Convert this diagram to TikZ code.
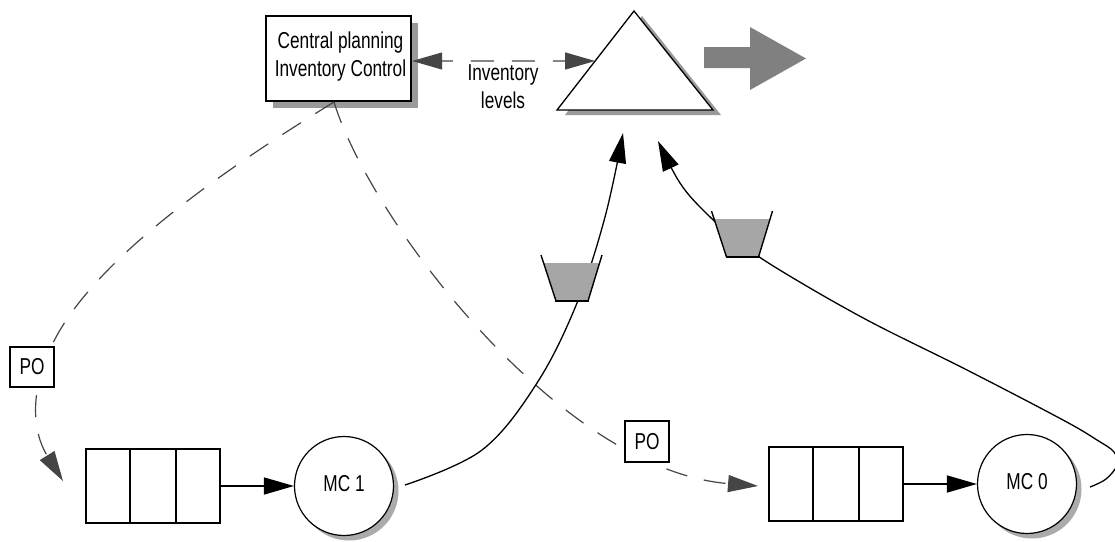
\documentclass[tikz,border=0pt]{standalone}
\usepackage{fontspec}
\setmainfont{Liberation Sans}[FakeStretch=0.75]
\usetikzlibrary{arrows.meta,shadows,calc}

\definecolor{dashgray}{HTML}{454545}
\definecolor{tankgray}{HTML}{A6A6A6}
\definecolor{boxshadow}{HTML}{9A9A9A}
\definecolor{roundshadow}{HTML}{ABABAB}
\definecolor{bigarrow}{HTML}{808080}

\begin{document}
\begin{tikzpicture}[x=1pt, y=-1pt,
  font=\fontsize{23pt}{28pt}\selectfont,
  >={Triangle[length=30pt,width=17pt]},
  planbox/.style={draw, line width=2.4pt, fill=white, minimum width=145pt,
    minimum height=85pt, inner sep=0pt,
    drop shadow={shadow xshift=7pt, shadow yshift=-7pt, opacity=1, fill=boxshadow}},
  pobox/.style={draw, line width=1.6pt, fill=white, minimum width=44.5pt,
    minimum height=40.5pt, inner sep=0pt},
  queuebox/.style={draw, line width=2pt, fill=white, minimum width=134pt,
    minimum height=74pt, inner sep=0pt},
  machine/.style={circle, draw, line width=1.2pt, fill=white, minimum size=99pt,
    inner sep=0pt, text height=16.5pt, text depth=5.5pt,
    drop shadow={shadow xshift=5pt, shadow yshift=-5pt, opacity=1, fill=roundshadow}},
  order/.style={draw=dashgray, line width=1.2pt, dash pattern=on 22pt off 17pt},
  flow/.style={draw, line width=1.3pt},
  feed/.style={draw, line width=1.6pt},
  divider/.style={line width=2pt},
  pics/tank/.style={code={
    \fill[tankgray] (-28.4,-38) -- (27.6,-38) -- (16,0) -- (-16,0) -- cycle;
    \draw[line width=1.4pt] (-31,-46) -- (-16,0);
    \draw[line width=1.4pt] (30,-46) -- (16,0);
    \draw[line width=2.4pt] (-17,0) -- (17,0);
  }}
]
\useasboundingbox (0,0) rectangle (1115,541);
\clip (0,0) rectangle (1115,541);

% central planning
\node[planbox] (cp) at (338.5,58.5) {};
\node[anchor=north, align=center, inner sep=0pt] (cptext) at (340.5,32)
  {Central planning\\Inventory Control};

% stock triangle
\coordinate (tri-l) at (557,110);
\coordinate (tri-a) at (634,11);
\coordinate (tri-r) at (713,110);
\filldraw[fill=white, line width=1.3pt, line join=miter,
  drop shadow={shadow xshift=8pt, shadow yshift=-5pt, opacity=1, fill=boxshadow}]
  (tri-l) -- (tri-a) -- (tri-r) -- cycle;

% outgoing flow
\fill[bigarrow] (704,47) -- (750,47) -- (750,27) -- (806,58.5) -- (750,90)
  -- (750,68) -- (704,68) -- cycle;

% inventory level exchange
\coordinate (tri-hit) at ($(tri-l)!0.495!(tri-a)$);
\draw[order, dash pattern=on 23pt off 18pt, dash phase=12pt, <->]
  ([yshift=-2.5pt]cp.east) -- (tri-hit);
\node[anchor=north, align=center, inner sep=0pt] (invlabel) at (503,64)
  {Inventory\\levels};

% free ends of the connectors
\coordinate (cpo) at (334,102);
\coordinate (q1in) at (63,481);
\coordinate (q2in) at (758,486);
\coordinate (mc1out) at (405,485);
\coordinate (mc0out) at (1090,487);
\coordinate (tri-in1) at (623,133);
\coordinate (tri-in2) at (658,141);

% purchase orders
\draw[order, ->] (cpo) .. controls (240,160) and (95,255) .. (52,345)
  .. controls (32,385) and (30,428) .. (q1in);
\draw[order, ->] (cpo) .. controls (370,220) and (560,470) .. (q2in);

% material flows into stock
\draw[flow, ->] plot[smooth, tension=0.6] coordinates
  {(mc1out) (482,450) (537,383) (577,303) (605,217) (tri-in1)};
\draw[flow, ->] plot[smooth, tension=0.6] coordinates
  {(mc0out) (1106,479) (1117,465) (1114,452) (1097,440) (1063,420) (967,370)
   (867,320) (783,272) (740,243) (705,212) (680,183) (tri-in2)};

% transit buffers
\pic at (572,301) {tank};
\pic at (742.5,257) {tank};

% order labels
\node[pobox] (po1) at (32,367) {PO};
\node[pobox] (po2) at (647,441.5) {PO};

% queues and machines
\node[queuebox] (q1) at (153,486) {};
\node[queuebox] (q2) at (836,484) {};
\foreach \q in {q1,q2}{
  \draw[divider] ($(\q.north west)!1/3!(\q.north east)$) -- ($(\q.south west)!1/3!(\q.south east)$);
  \draw[divider] ($(\q.north west)!2/3!(\q.north east)$) -- ($(\q.south west)!2/3!(\q.south east)$);
}
\node[machine] (mc1) at (344,486) {MC 1};
\node[machine] (mc0) at (1027,484) {MC 0};
\draw[feed, ->] (q1.east) -- (mc1.west);
\draw[feed, ->] (q2.east) -- (mc0.west);
\end{tikzpicture}
\end{document}
